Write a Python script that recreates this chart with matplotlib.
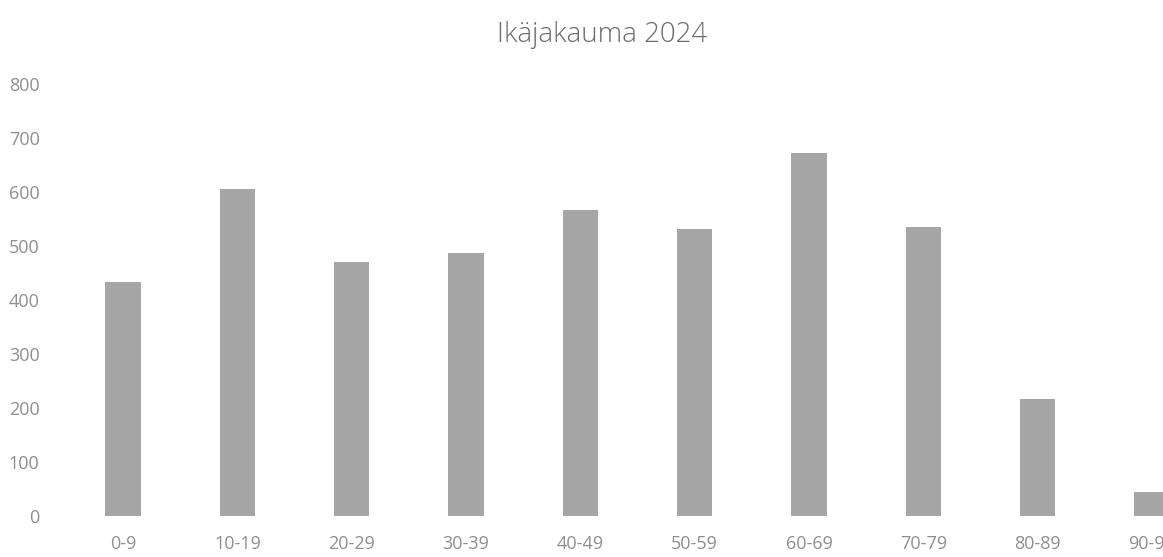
import matplotlib.pyplot as plt
import numpy as np

# Ikäjakauma 2024 - luvut arvioitu kuvasta
age_groups = ["0-9", "10-19", "20-29", "30-39", "40-49", "50-59",
              "60-69", "70-79", "80-89", "90-99"]
counts = [434, 605, 470, 487, 567, 531, 672, 535, 217, 44]
y_ticks = [0, 100, 200, 300, 400, 500, 600, 700, 800]

plt.rcParams['font.family'] = ['Open Sans', 'DejaVu Sans']

fig = plt.figure(figsize=(11.63, 5.57), dpi=100)
# axes runs past the right edge so the last bar is cut like in the original
ax = fig.add_axes([66 / 1163, 41 / 557, 1143 / 1163, 432 / 557])

x = np.arange(len(age_groups))
ax.bar(x, counts, width=0.31, color="#a6a6a6")

ax.set_xlim(-0.5, len(age_groups) - 0.5)
ax.set_ylim(0, 800)
ax.set_yticks(y_ticks)
ax.set_xticks(x)
ax.set_xticklabels(age_groups)

for s in ax.spines.values():
    s.set_visible(False)
ax.tick_params(axis="both", length=0, colors="#8f8f8f", labelsize=13)
ax.tick_params(axis="y", pad=19)
ax.tick_params(axis="x", pad=14)

fig.text(602 / 1163, 1 - 35 / 557, "Ikäjakauma 2024", ha="center", va="center",
         fontsize=20, color="#6b6b6b", fontweight="light")

fig.savefig("out.png", dpi=100)
